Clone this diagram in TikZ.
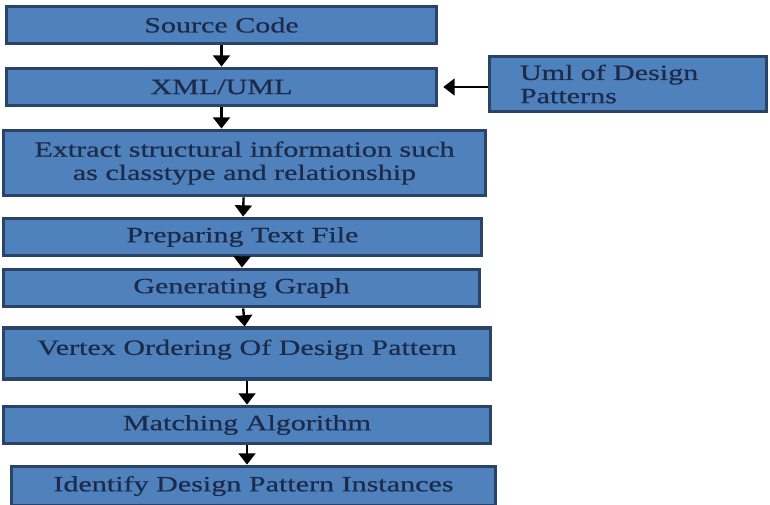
\documentclass[tikz,border=0pt]{standalone}
\usepackage{xcolor}
\usepackage{fontspec}
\usepackage{tikz}
\usetikzlibrary{arrows.meta}
\setmainfont{Liberation Serif}[FakeStretch=1.38,FakeBold=0.6]

\definecolor{boxfill}{HTML}{4F81BD}
\definecolor{boxline}{HTML}{2A4468}
\definecolor{boxtext}{HTML}{1D2B4A}

\begin{document}
\begin{tikzpicture}[x=0.025cm,y=-0.025cm,
    stage/.style={draw=boxline, line width=2.6pt, fill=boxfill, text=boxtext,
        align=center, inner sep=2pt,
        font=\fontsize{15.5}{16.5}\selectfont},
    flow/.style={-{Triangle[width=12pt,length=8pt]}, line width=1.7pt, black}]
    \useasboundingbox (0,0) rectangle (770,505);

    \node[stage, minimum width=10.75cm, minimum height=0.93cm] (src) at (221.5,25) {Source Code};
    \node[stage, minimum width=10.75cm, minimum height=0.93cm] (xml) at (221.5,87) {XML/UML};
    \node[stage, minimum width=6.93cm, minimum height=1.38cm, align=left, text width=5.4cm] (uml) at (628,84) {Uml of Design\\Patterns};
    \node[stage, minimum width=12.05cm, minimum height=1.63cm] (extract) at (244.5,163) {Extract structural information such\\as classtype and relationship};
    \node[stage, minimum width=11.95cm, minimum height=0.93cm] (prep) at (242.5,237) {Preparing Text File};
    \node[stage, minimum width=11.9cm, minimum height=0.93cm] (gen) at (241.5,288) {Generating Graph};
    \node[stage, minimum width=12.18cm, minimum height=1.26cm, text depth=9pt] (vertex) at (247,353.5) {Vertex Ordering Of Design Pattern};
    \node[stage, minimum width=12.18cm, minimum height=0.93cm] (match) at (247,425) {Matching Algorithm};
    \node[stage, minimum width=12.1cm, minimum height=0.98cm] (ident) at (253.5,486) {Identify Design Pattern Instances};

    \draw[flow] (src) -- (xml);
    \draw[flow, line width=1.2pt] (uml.west |- xml) -- (xml.east) [shorten >=3.5pt];
    \draw[flow] (xml.south) -- (xml.south |- extract.north);
    \draw[flow] (extract) -- (prep);
    \draw[flow] (prep) -- (gen);
    \draw[flow] (gen) -- (vertex);
    \draw[flow] (vertex) -- (match);
    \draw[flow] (match.south) -- (match.south |- ident.north);
\end{tikzpicture}
\end{document}
